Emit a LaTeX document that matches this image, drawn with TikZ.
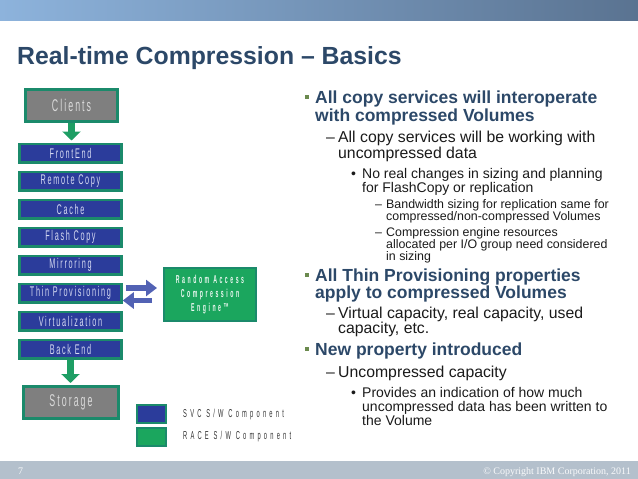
\documentclass[tikz,border=0pt]{standalone}
\usepackage{fontspec}
\setmainfont{Liberation Sans}
\newfontfamily\serfont{Liberation Serif}
\newfontfamily\stackfont[FakeStretch=0.52,LetterSpace=12]{Liberation Sans}
\newfontfamily\widefont[FakeStretch=0.5,LetterSpace=28]{Liberation Sans}
\newfontfamily\racefont[FakeStretch=0.45,LetterSpace=22]{Liberation Sans}
\usetikzlibrary{arrows.meta,positioning}

\definecolor{ibmtitle}{HTML}{2C4868}
\definecolor{svcblue}{HTML}{2B3C9B}
\definecolor{raceg}{HTML}{1BA65E}
\definecolor{edgeg}{HTML}{1B8A6B}
\definecolor{boxgray}{HTML}{7F7F7F}
\definecolor{arrowg}{HTML}{1E9E64}
\definecolor{linkblue}{HTML}{5262B4}
\definecolor{bulletg}{HTML}{6B8A4E}
\definecolor{footbar}{HTML}{B4C0CC}
\definecolor{bodytext}{HTML}{1A1A1A}
\definecolor{barleft}{HTML}{8DB3DC}
\definecolor{barright}{HTML}{5A7391}
\definecolor{paletext}{HTML}{D6DAF2}

\tikzstyle{layer} = [draw=edgeg, line width=2.5pt, fill=svcblue, minimum width=102pt, minimum height=18.5pt, inner sep=0, text=paletext, font=\stackfont\fontsize{14}{15}\selectfont]
\tikzstyle{endbox} = [draw=edgeg, line width=3pt, fill=boxgray, minimum width=92pt, minimum height=32pt, inner sep=0, text=white!85!black, font=\stackfont\fontsize{17}{18}\selectfont]
\tikzstyle{flow} = [draw=arrowg, line width=7pt, -{Triangle[width=18pt,length=9pt]}]
\tikzstyle{link} = [draw=linkblue, line width=5.5pt, -{Triangle[width=16pt,length=11pt]}]
\tikzstyle{keybox} = [draw=edgeg, line width=1.5pt, minimum width=29pt, minimum height=18pt, inner sep=0]
\tikzstyle{sq} = [fill=bulletg, minimum size=4pt, inner sep=0]
\tikzstyle{lone} = [anchor=base west, inner sep=0, text=ibmtitle, font=\fontsize{17.5}{18}\selectfont\bfseries]
\tikzstyle{ltwo} = [anchor=base west, inner sep=0, text=bodytext, font=\fontsize{15.8}{16}\selectfont]
\tikzstyle{lthree} = [anchor=base west, inner sep=0, text=bodytext, font=\fontsize{14}{15}\selectfont]
\tikzstyle{lfour} = [anchor=base west, inner sep=0, text=bodytext, font=\fontsize{12.4}{13}\selectfont]

\begin{document}
\begin{tikzpicture}[x=1pt,y=-1pt]

\useasboundingbox (0,0) rectangle (638,479);

%BANNER
\shade[left color=barleft, right color=barright] (0,0) rectangle (638,20);
\node [anchor=base west, inner sep=0, text=ibmtitle, font=\fontsize{24.8}{26}\selectfont\bfseries] (title) at (17,64) {Real-time Compression – Basics};

%FOOTER
\fill[footbar] (0,461) rectangle (638,479);
\node [anchor=base west, inner sep=0, text=white!92!footbar, font=\serfont\fontsize{10}{11}\selectfont] (page) at (18,474) {7};
\node [anchor=base east, inner sep=0, text=white!92!footbar, font=\serfont\fontsize{10}{11}\selectfont] (copy) at (631,474) {© Copyright IBM Corporation, 2011};


%STACK
\node [endbox] (clients) at (71.5,105) {Clients};

\node [layer] (front) at (70.5,153) {FrontEnd};
\node [layer] (remote) at (70.5,181) {Remote Copy};
\node [layer] (cache) at (70.5,209) {Cache};
\node [layer] (flash) at (70.5,237) {Flash Copy};
\node [layer] (mirror) at (70.5,265) {Mirroring};
\node [layer] (thin) at (70.5,293) {Thin Provisioning};
\node [layer] (virt) at (70.5,321) {Virtualization};
\node [layer] (back) at (70.5,349) {Back End};

\node [endbox, minimum width=95pt] (storage) at (71,402.5) {Storage};

\draw[flow, shorten >=2pt] (clients.south) -- (clients.south |- front.north);
\draw[flow, shorten >=2pt] (back.south) -- (back.south |- storage.north);


%RACE
\node [draw=edgeg, line width=2pt, fill=raceg, minimum width=92pt, minimum height=53pt, inner sep=0, align=center, text=white!92!raceg, font=\racefont\fontsize{11.5}{14}\selectfont\bfseries] (race) at (210,294.5) {Random Access\\Compression\\Engine™};

\draw[link, shorten <=3pt, shorten >=6pt] ([yshift=5pt]thin.east) -- ([yshift=5pt]thin.east -| race.west);
\draw[link, shorten <=11pt] ([yshift=-6pt]race.west) -- ([yshift=-6pt]race.west -| thin.east);


%LEGEND
\node [keybox, fill=svcblue] (ksvc) at (151.5,414) {};
\node [keybox, fill=raceg] (krace) at (151.5,437) {};
\node [anchor=west, inner sep=0, text=black!80, font=\widefont\fontsize{11.5}{12}\selectfont] (tsvc) at (183,415) {SVC S/W Component};
\node [anchor=west, inner sep=0, text=black!80, font=\widefont\fontsize{11.5}{12}\selectfont] (trace) at (183,437) {RACE S/W Component};


%TEXT
\node [sq] (b1) at (307,97) {};
\node [lone] (b1_1) at (315,103) {All copy services will interoperate};
\node [lone] (b1_2) at (315,121) {with compressed Volumes};

\node [ltwo] (d1) at (326,142) {–};
\node [ltwo] (d1_1) at (338,142) {All copy services will be working with};
\node [ltwo] (d1_2) at (338,158) {uncompressed data};

\node [lthree] (p1) at (351,178) {•};
\node [lthree] (p1_1) at (362,178) {No real changes in sizing and planning};
\node [lthree] (p1_2) at (362,192) {for FlashCopy or replication};

\node [lfour] (e1) at (375,208) {–};
\node [lfour] (e1_1) at (386,208) {Bandwidth sizing for replication same for};
\node [lfour] (e1_2) at (386,220) {compressed/non-compressed Volumes};

\node [lfour] (e2) at (375,236) {–};
\node [lfour] (e2_1) at (386,236) {Compression engine resources};
\node [lfour] (e2_2) at (386,248) {allocated per I/O group need considered};
\node [lfour] (e2_3) at (386,260) {in sizing};

\node [sq] (b2) at (307,275) {};
\node [lone] (b2_1) at (315,281) {All Thin Provisioning properties};
\node [lone] (b2_2) at (315,298) {apply to compressed Volumes};

\node [ltwo] (d2) at (326,318) {–};
\node [ltwo] (d2_1) at (338,318) {Virtual capacity, real capacity, used};
\node [ltwo] (d2_2) at (338,333) {capacity, etc.};

\node [sq] (b3) at (307,349) {};
\node [lone] (b3_1) at (315,355) {New property introduced};

\node [ltwo] (d3) at (326,377) {–};
\node [ltwo] (d3_1) at (338,377) {Uncompressed capacity};

\node [lthree] (p2) at (351,397) {•};
\node [lthree] (p2_1) at (362,397) {Provides an indication of how much};
\node [lthree] (p2_2) at (362,411) {uncompressed data has been written to};
\node [lthree] (p2_3) at (362,425) {the Volume};

\end{tikzpicture}
\end{document}
